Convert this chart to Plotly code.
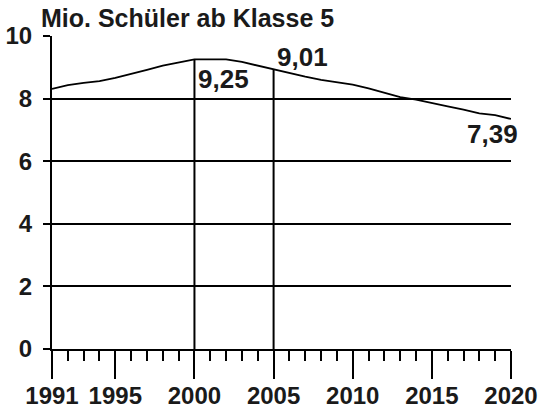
import plotly.graph_objects as go

years = list(range(1991, 2021))
pupils = [8.31, 8.43, 8.50, 8.56, 8.66, 8.78, 8.92, 9.05, 9.15, 9.25,
          9.25, 9.25, 9.17, 9.05, 8.93, 8.80, 8.70, 8.60, 8.53, 8.45,
          8.33, 8.18, 8.05, 7.97, 7.85, 7.75, 7.65, 7.53, 7.47, 7.35]
major_years = [1991, 1995, 2000, 2005, 2010, 2015, 2020]
y_ticks = [0, 2, 4, 6, 8, 10]
marked_years = [2000, 2005]
labels = [("9,25", 2000.1, 8.63), ("9,01", 2005.1, 9.33)]
end_label = ("7,39", 6.87)
title = "Mio. Schüler ab Klasse 5"

FONT = "Liberation Sans"
L, R, T, B = 52, 27, 36, 56
W, H = 538, 405
PW = W - L - R
PH = H - T - B
INK = "#1a1a1a"

fig = go.Figure()
fig.add_trace(go.Scatter(x=years, y=pupils, mode="lines",
                         line=dict(color="black", width=1.8), hoverinfo="skip",
                         showlegend=False, cliponaxis=False))

for yr in marked_years:
    v = pupils[years.index(yr)]
    fig.add_shape(type="line", x0=yr, x1=yr, y0=0, y1=v, xref="x", yref="y",
                  line=dict(color="black", width=2))

for txt, xx, yy in labels:
    fig.add_annotation(x=xx, y=yy, text="<b>%s</b>" % txt, showarrow=False,
                       xanchor="left", yanchor="middle",
                       font=dict(family=FONT, size=26, color=INK))

fig.add_annotation(xref="paper", yref="y", x=(520 - L) / PW, y=end_label[1],
                   text="<b>%s</b>" % end_label[0], showarrow=False,
                   xanchor="right", yanchor="middle",
                   font=dict(family=FONT, size=26, color=INK))

fig.add_annotation(xref="paper", yref="paper", x=(39 - L) / PW, y=1 + (T - 18) / PH,
                   text="<b>%s</b>" % title, showarrow=False, xanchor="left", yanchor="middle",
                   font=dict(family=FONT, size=25, color=INK))

fig.update_xaxes(range=[1991, 2020], tickmode="array", tickvals=major_years,
                 ticktext=["<b>%d</b>" % y for y in major_years],
                 ticks="outside", ticklen=28, tickwidth=2, tickcolor="black",
                 minor=dict(dtick=1, tick0=1991, ticks="outside", ticklen=10, tickwidth=2,
                            tickcolor="black", showgrid=False),
                 showline=True, linecolor="black", linewidth=2, showgrid=False, zeroline=False,
                 automargin=False, ticklabelstandoff=-4,
                 tickfont=dict(family=FONT, size=24, color=INK))
fig.update_yaxes(range=[0, 10], tickmode="array", tickvals=y_ticks,
                 ticktext=["<b>%d</b>" % v for v in y_ticks],
                 ticks="outside", ticklen=7, tickwidth=2, tickcolor="black",
                 showline=True, linecolor="black", linewidth=2, ticklabelstandoff=6,
                 showgrid=True, gridcolor="black", gridwidth=2, zeroline=False,
                 automargin=False,
                 tickfont=dict(family=FONT, size=24, color=INK))

fig.update_layout(width=W, height=H, margin=dict(l=L, r=R, t=T, b=B),
                  plot_bgcolor="white", paper_bgcolor="white", showlegend=False)
fig.write_html("out.html", config={"displayModeBar": False},
               post_script="document.body.style.margin='0';")
